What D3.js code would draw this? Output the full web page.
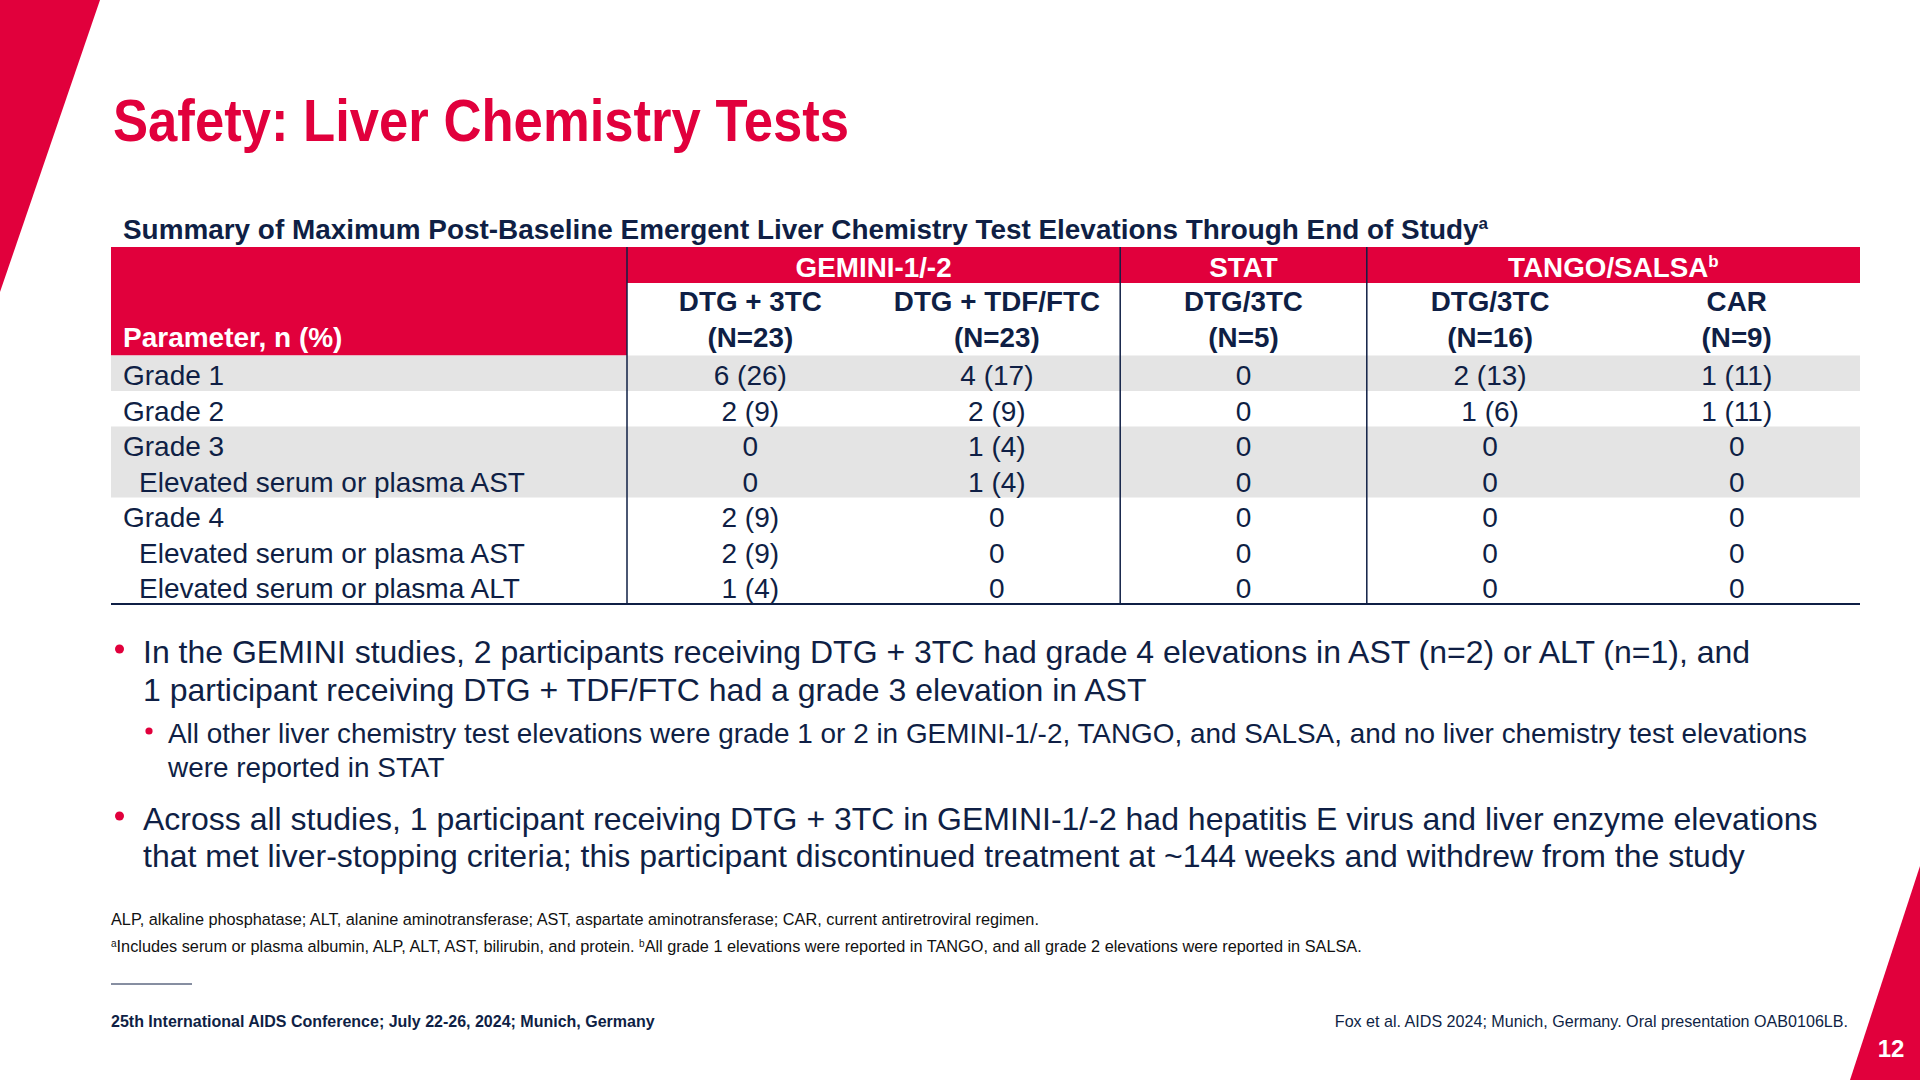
<!DOCTYPE html>
<html>
<head>
<meta charset="utf-8">
<script src="https://cdn.jsdelivr.net/npm/d3@7"></script>
<style>
    body { margin: 0; background: #fff; }
    svg { display: block; font-family: "Liberation Sans", Arial, sans-serif; }
</style>
</head>
<body>
<svg id="slide" width="1920" height="1080"></svg>
<script>
//Table data
let groups = ["GEMINI-1/-2", "STAT", "TANGO/SALSA"];
let groupSup = ["", "", "b"];
let groupSpan = [[0, 1], [2, 2], [3, 4]];
let arms = ["DTG + 3TC", "DTG + TDF/FTC", "DTG/3TC", "DTG/3TC", "CAR"];
let armN = ["(N=23)", "(N=23)", "(N=5)", "(N=16)", "(N=9)"];
let params = ["Grade 1", "Grade 2", "Grade 3", "Elevated serum or plasma AST", "Grade 4", "Elevated serum or plasma AST", "Elevated serum or plasma ALT"];
let indent = [0, 0, 0, 1, 0, 1, 1];
let shaded = [1, 0, 1, 1, 0, 0, 0];
let values = [
    ["6 (26)", "4 (17)", "0", "2 (13)", "1 (11)"],
    ["2 (9)", "2 (9)", "0", "1 (6)", "1 (11)"],
    ["0", "1 (4)", "0", "0", "0"],
    ["0", "1 (4)", "0", "0", "0"],
    ["2 (9)", "0", "0", "0", "0"],
    ["2 (9)", "0", "0", "0", "0"],
    ["1 (4)", "0", "0", "0", "0"]
];

//Text on the slide
let title = "Safety: Liver Chemistry Tests";
let tableTitle = "Summary of Maximum Post-Baseline Emergent Liver Chemistry Test Elevations Through End of Study";
let bullets = [
    {level: 0, lines: ["In the GEMINI studies, 2 participants receiving DTG + 3TC had grade 4 elevations in AST (n=2) or ALT (n=1), and",
        "1 participant receiving DTG + TDF/FTC had a grade 3 elevation in AST"]},
    {level: 1, lines: ["All other liver chemistry test elevations were grade 1 or 2 in GEMINI-1/-2, TANGO, and SALSA, and no liver chemistry test elevations",
        "were reported in STAT"]},
    {level: 0, lines: ["Across all studies, 1 participant receiving DTG + 3TC in GEMINI-1/-2 had hepatitis E virus and liver enzyme elevations",
        "that met liver-stopping criteria; this participant discontinued treatment at ~144 weeks and withdrew from the study"]}
];
let abbrev = "ALP, alkaline phosphatase; ALT, alanine aminotransferase; AST, aspartate aminotransferase; CAR, current antiretroviral regimen.";
let noteA = "Includes serum or plasma albumin, ALP, ALT, AST, bilirubin, and protein. ";
let noteB = "All grade 1 elevations were reported in TANGO, and all grade 2 elevations were reported in SALSA.";
let conference = "25th International AIDS Conference; July 22-26, 2024; Munich, Germany";
let citation = "Fox et al. AIDS 2024; Munich, Germany. Oral presentation OAB0106LB.";
let pageNo = "12";

let red = "#e1003c";
let navy = "#0f1f45";
let grey = "#e4e4e4";

let svg = d3.select("#slide");

//Corner shapes
svg.append("path").attr("d", "M0,0 L100,0 L0,292 Z").attr("fill", red);
svg.append("path").attr("d", "M1920,866 L1920,1080 L1850,1080 Z").attr("fill", red);

//Title
svg.append("text")
    .attr("x", 113).attr("y", 141)
    .attr("font-size", 60).attr("font-weight", "bold")
    .attr("textLength", 736).attr("lengthAdjust", "spacingAndGlyphs")
    .attr("fill", red)
    .text(title);

//Table title
let tt = svg.append("text")
    .attr("x", 123).attr("y", 239)
    .attr("font-size", 27.9).attr("font-weight", "bold")
    .attr("fill", navy);
tt.append("tspan").text(tableTitle);
tt.append("tspan").attr("font-size", 17).attr("dy", -10).text("a");

//Scales for the table
let tableLeft = 111, tableRight = 1860, labelRight = 627;
let x = d3.scaleBand().domain(d3.range(arms.length)).range([labelRight, tableRight]);
let y = d3.scaleBand().domain(d3.range(params.length)).range([355.5, 604]);
let headTop = 247, groupBottom = 283;

//Header backgrounds
svg.append("rect")
    .attr("x", tableLeft).attr("y", headTop)
    .attr("width", labelRight - tableLeft).attr("height", y.range()[0] - headTop)
    .attr("fill", red);
svg.append("rect")
    .attr("x", labelRight).attr("y", headTop)
    .attr("width", tableRight - labelRight).attr("height", groupBottom - headTop)
    .attr("fill", red);

//Shaded rows
svg.append("g")
    .selectAll("rect")
    .data(d3.range(params.length).filter(i => shaded[i]))
    .enter().append("rect")
    .attr("x", tableLeft).attr("y", i => y(i))
    .attr("width", tableRight - tableLeft).attr("height", y.bandwidth())
    .attr("fill", grey);

//Group labels
let gl = svg.append("g")
    .selectAll("text")
    .data(groups)
    .enter().append("text")
    .attr("x", (d, i) => (x(groupSpan[i][0]) + x(groupSpan[i][1]) + x.bandwidth()) / 2)
    .attr("y", 277)
    .attr("text-anchor", "middle")
    .attr("font-size", 27.8).attr("font-weight", "bold")
    .attr("fill", "#fff");
gl.append("tspan").text(d => d);
gl.append("tspan").attr("font-size", 17).attr("dy", -10).text((d, i) => groupSup[i]);

//Arm labels
svg.append("g")
    .selectAll("text")
    .data(arms)
    .enter().append("text")
    .attr("x", (d, i) => x(i) + x.bandwidth() / 2)
    .attr("y", 311)
    .attr("text-anchor", "middle")
    .attr("font-size", 27.8).attr("font-weight", "bold")
    .attr("fill", navy)
    .text(d => d);
svg.append("g")
    .selectAll("text")
    .data(armN)
    .enter().append("text")
    .attr("x", (d, i) => x(i) + x.bandwidth() / 2)
    .attr("y", 347)
    .attr("text-anchor", "middle")
    .attr("font-size", 27.8).attr("font-weight", "bold")
    .attr("fill", navy)
    .text(d => d);

svg.append("text")
    .attr("x", 123).attr("y", 347)
    .attr("font-size", 28).attr("font-weight", "bold")
    .attr("fill", "#fff")
    .text("Parameter, n (%)");

//Row labels
svg.append("g")
    .selectAll("text")
    .data(params)
    .enter().append("text")
    .attr("x", (d, i) => indent[i] ? 139 : 123)
    .attr("y", (d, i) => y(i) + 29.5)
    .attr("font-size", 28)
    .attr("fill", navy)
    .text(d => d);

//Cell values
svg.append("g")
    .selectAll("g")
    .data(values)
    .enter().append("g")
    .selectAll("text")
    .data((row, i) => row.map((v, j) => ({v: v, i: i, j: j})))
    .enter().append("text")
    .attr("x", d => x(d.j) + x.bandwidth() / 2)
    .attr("y", d => y(d.i) + 29.5)
    .attr("text-anchor", "middle")
    .attr("font-size", 28)
    .attr("fill", navy)
    .text(d => d.v);

//Column dividers between studies
let dividers = [labelRight, x(groupSpan[1][0]), x(groupSpan[2][0])];
svg.append("g")
    .selectAll("line")
    .data(dividers)
    .enter().append("line")
    .attr("x1", d => d).attr("x2", d => d)
    .attr("y1", headTop).attr("y2", y.range()[1])
    .attr("stroke", navy).attr("stroke-width", 1.5);

//Bottom border
svg.append("line")
    .attr("x1", tableLeft).attr("x2", tableRight)
    .attr("y1", y.range()[1]).attr("y2", y.range()[1])
    .attr("stroke", navy).attr("stroke-width", 2);

//Bullets
let bulletTop = [663, 743, 830];
let lineGap = [38, 34, 37];
bullets.forEach(function (b, k) {
    let tx = b.level ? 168 : 143;
    svg.append("circle")
        .attr("cx", b.level ? 149 : 119.5)
        .attr("cy", bulletTop[k] - (b.level ? 12 : 14))
        .attr("r", b.level ? 3.6 : 4.5)
        .attr("fill", red);
    svg.append("g")
        .selectAll("text")
        .data(b.lines)
        .enter().append("text")
        .attr("x", tx)
        .attr("y", (d, i) => bulletTop[k] + i * lineGap[k])
        .attr("font-size", b.level ? 27.9 : 32)
        .attr("fill", navy)
        .text(d => d);
});

//Footnotes
svg.append("text")
    .attr("x", 111).attr("y", 925)
    .attr("font-size", 16.3).attr("fill", "#111")
    .text(abbrev);
let fn = svg.append("text")
    .attr("x", 111).attr("y", 952)
    .attr("font-size", 16.3).attr("fill", "#111");
fn.append("tspan").attr("font-size", 10).attr("dy", -5).text("a");
fn.append("tspan").attr("dy", 5).text(noteA);
fn.append("tspan").attr("font-size", 10).attr("dy", -5).text("b");
fn.append("tspan").attr("dy", 5).text(noteB);

svg.append("line")
    .attr("x1", 111).attr("x2", 192)
    .attr("y1", 984).attr("y2", 984)
    .attr("stroke", navy).attr("stroke-width", 1);

svg.append("text")
    .attr("x", 111).attr("y", 1027)
    .attr("font-size", 16).attr("font-weight", "bold")
    .attr("fill", navy)
    .text(conference);
svg.append("text")
    .attr("x", 1848).attr("y", 1027)
    .attr("text-anchor", "end")
    .attr("font-size", 16.1)
    .attr("fill", navy)
    .text(citation);

svg.append("text")
    .attr("x", 1891).attr("y", 1057)
    .attr("text-anchor", "middle")
    .attr("font-size", 24).attr("font-weight", "bold")
    .attr("fill", "#fff")
    .text(pageNo);
</script>
</body>
</html>
